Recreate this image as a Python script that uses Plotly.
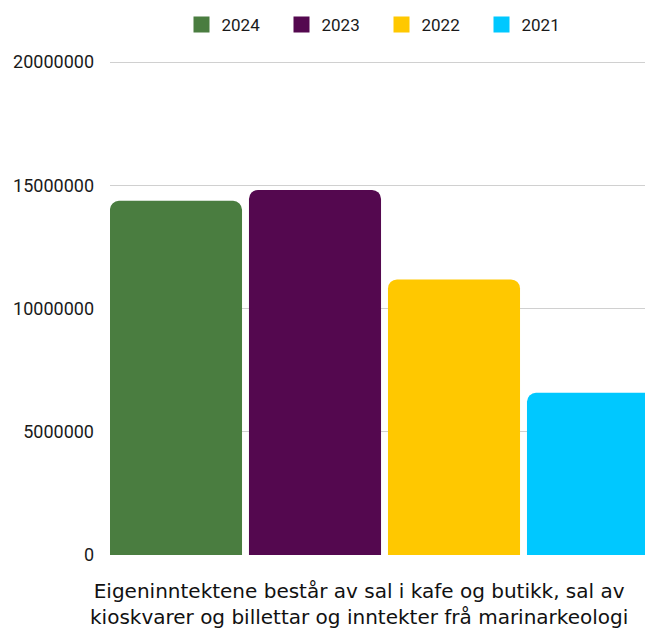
import plotly.graph_objects as go

years = ["2024", "2023", "2022", "2021"]
values = [14370000, 14810000, 11180000, 6580000]
colors = ["#4a7d40", "#54084f", "#ffc800", "#00c8ff"]
category = ["Eigeninntekter"]
title_lines = ["Eigeninntektene består av sal i kafe og butikk, sal av",
               "kioskvarer og billettar og inntekter frå marinarkeologi"]
y_ticks = [0, 5000000, 10000000, 15000000, 20000000]

fig = go.Figure()
for yr, v, c in zip(years, values, colors):
    fig.add_trace(go.Bar(x=category, y=[v], name=yr, marker_color=c,
                         marker_line_width=0, showlegend=False))
for yr, c in zip(years, colors):
    fig.add_trace(go.Scatter(x=[None], y=[None], mode="markers", name=yr,
                             marker=dict(symbol="square", size=22, color=c)))

# page body has an 8px margin, so the figure is 8px smaller and margins shifted
fig.update_layout(
    width=645, height=624,
    margin=dict(l=102, r=0, t=51, b=77, autoexpand=False),
    paper_bgcolor="white", plot_bgcolor="white",
    barmode="group", bargap=0, bargroupgap=0.05, barcornerradius=9,
    font=dict(family="Roboto", size=16, color="#1a1a1a"),
    legend=dict(orientation="h", x=0.5, xanchor="center", y=1.0685, yanchor="middle",
                font=dict(size=17), itemwidth=30, entrywidth=55,
                entrywidthmode="pixels"),
    xaxis=dict(showticklabels=False, showgrid=False, zeroline=False,
               range=[-0.4937, 0.4829]),
    yaxis=dict(range=[0, 20122000], tickvals=y_ticks, ticktext=[str(t) for t in y_ticks],
               showgrid=True, gridcolor="#d0d0d0", gridwidth=1, zeroline=False,
               ticks="", ticklabelstandoff=15, tickfont=dict(size=18)),
    annotations=[dict(text="<br>".join(title_lines), xref="paper", yref="paper",
                      x=0.4586, y=0, yshift=-22, xanchor="center", yanchor="top",
                      showarrow=False, align="center",
                      font=dict(family="DejaVu Sans", size=20, color="#111"))],
)
fig.write_html("out.html")
